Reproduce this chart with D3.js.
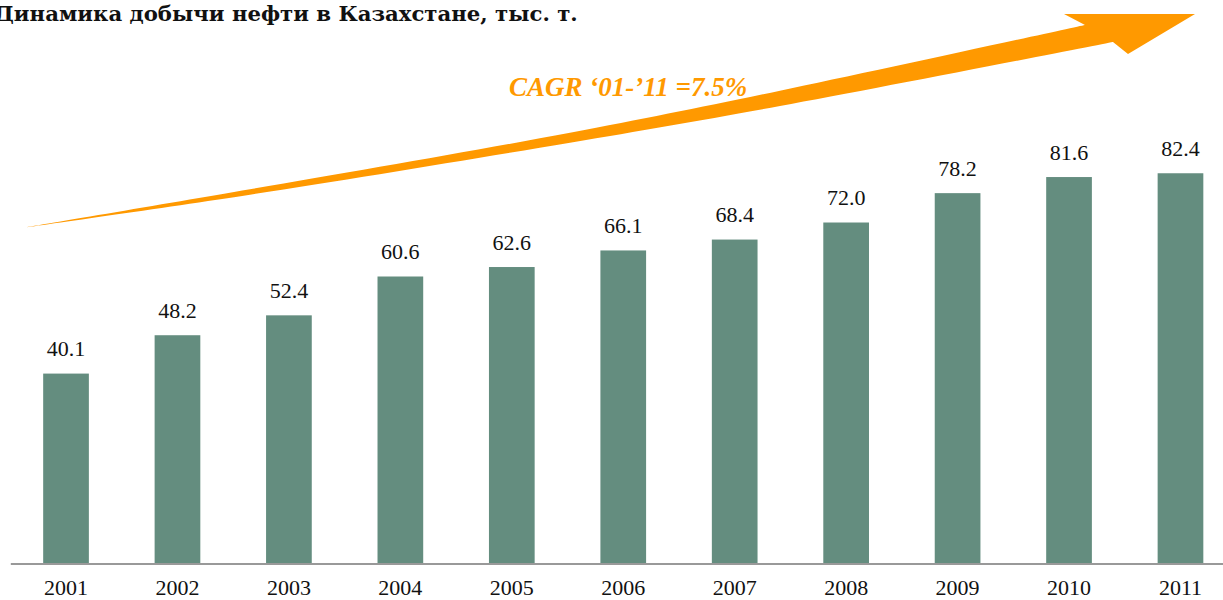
<!DOCTYPE html>
<html><head><meta charset="utf-8">
<script src="https://cdn.jsdelivr.net/npm/d3@7"></script>
<style>
html,body{margin:0;padding:0;background:#fff;overflow:hidden;}
svg{display:block;}
</style></head>
<body>
<script>
const years = ["2001","2002","2003","2004","2005","2006","2007","2008","2009","2010","2011"];
const values = [40.1, 48.2, 52.4, 60.6, 62.6, 66.1, 68.4, 72.0, 78.2, 81.6, 82.4];
const title = "Динамика добычи нефти в Казахстане, тыс. т.";
const cagrLabel = "CAGR ‘01-’11 =7.5%";

const W = 1223, H = 600;
const svg = d3.select("body").append("svg").attr("width", W).attr("height", H);

const x = d3.scaleBand().domain(years).range([10.3, 1236.2]).paddingInner(0.59).paddingOuter(0.295);
const y = d3.scaleLinear().domain([0, 100]).range([563.5, 89.9]);

// bars
svg.append("g").selectAll("rect").data(values).join("rect")
  .attr("x", (d,i) => x(years[i]))
  .attr("width", x.bandwidth())
  .attr("y", d => y(d))
  .attr("height", d => y(0) - y(d))
  .attr("fill", "#648d7f");

// value labels
svg.append("g").selectAll("text").data(values).join("text")
  .attr("x", (d,i) => x(years[i]) + x.bandwidth()/2)
  .attr("y", d => y(d) - 17.5)
  .attr("text-anchor", "middle")
  .attr("font-family", "'Liberation Serif', serif")
  .attr("font-size", 22)
  .attr("fill", "#111")
  .text(d => d.toFixed(1));

// axis
const ax = svg.append("g").attr("transform", `translate(0,${y(0)})`)
  .call(d3.axisBottom(x).tickSize(0).tickSizeOuter(0));
ax.select(".domain").attr("stroke", "#999").attr("stroke-width", 2);
ax.selectAll("text")
  .attr("y", 31.5).attr("dy", 0)
  .attr("font-family", "'Liberation Serif', serif")
  .attr("font-size", 22)
  .attr("fill", "#111");

// arrow (decoration)
const upper = [[25,227.5],[250,189.3],[570,132.7],[780,90.7],[1085,25]];
const lower = [[1113,42],[780,106],[570,142.7],[250,194.7],[25,227.5]];
const head = [[1064,14],[1195,14],[1128,54]];
const lineGen = d3.line().curve(d3.curveCatmullRom);
const up = lineGen(upper);
const low = lineGen(lower).replace(/^M/, "L");
const headPath = head.map(p => "L" + p[0] + "," + p[1]).join("");
svg.append("path")
  .attr("d", up + headPath + low + "Z")
  .attr("fill", "#ff9900");

// CAGR label
svg.append("text")
  .attr("x", 509).attr("y", 96)
  .attr("font-family", "'Liberation Serif', serif")
  .attr("font-style", "italic")
  .attr("font-weight", "bold")
  .attr("font-size", 27)
  .attr("fill", "#ff9900")
  .text(cagrLabel);

// title
const t = svg.append("text")
  .attr("x", -5).attr("y", 20.5)
  .attr("font-family", "'DejaVu Serif', serif")
  .attr("font-weight", "bold")
  .attr("font-size", 20)
  .attr("fill", "#111")
  .text(title);
const tw = t.node().getComputedTextLength();
t.attr("font-size", 20 * 583 / tw);
</script>
</body></html>
